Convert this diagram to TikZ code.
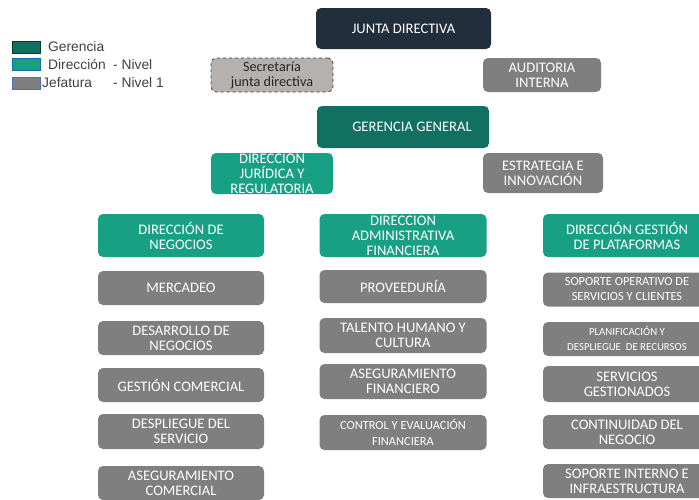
\documentclass[tikz,border=0pt]{standalone}
\usepackage{fontspec}
\setmainfont{Carlito}
\newfontfamily\legfont{Liberation Sans}
\usetikzlibrary{backgrounds}
\definecolor{navy}{HTML}{212E3C}
\definecolor{gerc}{HTML}{117060}
\definecolor{dirc}{HTML}{18A084}
\definecolor{jefc}{HTML}{7F7F7F}
\definecolor{secc}{HTML}{B5B1AF}
\definecolor{linec}{HTML}{CBE4DE}
\definecolor{legtext}{HTML}{404040}
\tikzset{
  base/.style={rounded corners=5pt, inner sep=0pt, align=center, text=white,
    font=\fontsize{14.6}{15}\selectfont},
  junta/.style={base, fill=navy},
  geren/.style={base, fill=gerc},
  direc/.style={base, fill=dirc},
  jefat/.style={base, fill=jefc},
  secre/.style={base, fill=secc, draw=legtext, dashed, line width=0.8pt, text=black!85,
    font=\fontsize{14.2}{15}\selectfont},
  conn/.style={draw=linec, line width=1pt},
  legbox/.style={minimum width=28pt, minimum height=12pt, inner sep=0pt, line width=0.8pt},
  legtxt/.style={anchor=west, inner sep=0pt, text=legtext, font=\legfont\fontsize{13.8}{15}\selectfont}
}
\begin{document}
\begin{tikzpicture}[x=1pt,y=-1pt]
\useasboundingbox (0,0) rectangle (699,499);
\clip (0,0) rectangle (699,499);
\fill[white] (0,0) rectangle (699,499);
% legend
\node[legbox, fill=gerc, draw=gerc!50!black] (lg1) at (26,47) {};
\node[legbox, fill=dirc, draw=blue!30!dirc] (lg2) at (26,64.5) {};
\node[legbox, fill=jefc, draw={rgb,255:red,74;green,111;blue,181}] (lg3) at (26,83) {};
\node[legtxt] (lt1) at (48,47) {Gerencia};
\node[legtxt] (lt2) at (48,64.5) {\makebox[65pt][l]{Dirección}- Nivel};
\node[legtxt] (lt3) at (42,83) {\makebox[71pt][l]{Jefatura}- Nivel 1};
% top
\node[junta, minimum width=175pt, minimum height=41pt] (jd) at (403.5,28.5) {JUNTA DIRECTIVA};
\node[secre, minimum width=122pt, minimum height=34pt] (sec) at (272,75) {Secretaría\\junta directiva};
\node[jefat, minimum width=118pt, minimum height=34pt] (aud) at (542,75) {AUDITORIA\\INTERNA};
\node[geren, minimum width=172pt, minimum height=42pt] (gg) at (403,127) {\hspace*{18pt}GERENCIA GENERAL};
\node[direc, minimum width=122pt, minimum height=41pt] (jur) at (272,173.5) {DIRECCION\\JURÍDICA Y\\REGULATORIA};
\node[jefat, minimum width=120pt, minimum height=40pt] (est) at (543,173) {ESTRATEGIA E\\INNOVACIÓN};
% column 1
\node[direc, minimum width=166pt, minimum height=43pt] (dn) at (181,235.5) {DIRECCIÓN DE\\NEGOCIOS};
\node[jefat, minimum width=166pt, minimum height=34pt] (m1) at (181,288) {MERCADEO};
\node[jefat, minimum width=166pt, minimum height=34pt] (m2) at (181,338) {DESARROLLO DE\\NEGOCIOS};
\node[jefat, minimum width=166pt, minimum height=34pt] (m3) at (181,385) {GESTIÓN COMERCIAL};
\node[jefat, minimum width=166pt, minimum height=35pt] (m4) at (181,431.5) {DESPLIEGUE DEL\\SERVICIO};
\node[jefat, minimum width=166pt, minimum height=34pt] (m5) at (181,483) {ASEGURAMIENTO\\COMERCIAL};
% column 2
\node[direc, minimum width=167pt, minimum height=43pt] (daf) at (403,235.5) {DIRECCION\\ADMINISTRATIVA\\FINANCIERA};
\node[jefat, minimum width=167pt, minimum height=33pt] (a1) at (403,286.5) {PROVEEDURÍA};
\node[jefat, minimum width=167pt, minimum height=35pt] (a2) at (403,335.5) {TALENTO HUMANO Y\\CULTURA};
\node[jefat, minimum width=167pt, minimum height=35pt] (a3) at (403,381.5) {ASEGURAMIENTO\\FINANCIERO};
\node[jefat, minimum width=167pt, minimum height=35pt, font=\fontsize{12.4}{16}\selectfont] (a4) at (403,432.5) {CONTROL Y EVALUACIÓN\\FINANCIERA};
% column 3
\node[direc, minimum width=168pt, minimum height=43pt] (dgp) at (627,235.5) {DIRECCIÓN GESTIÓN\\DE PLATAFORMAS};
\node[jefat, minimum width=168pt, minimum height=34pt, font=\fontsize{12.4}{15}\selectfont] (p1) at (627,289.5) {SOPORTE OPERATIVO DE\\SERVICIOS Y CLIENTES};
\node[jefat, minimum width=168pt, minimum height=34pt, font=\fontsize{10.8}{15}\selectfont] (p2) at (627,339) {PLANIFICACIÓN Y\\DESPLIEGUE\ \ DE RECURSOS};
\node[jefat, minimum width=168pt, minimum height=36pt] (p3) at (627,384) {SERVICIOS\\GESTIONADOS};
\node[jefat, minimum width=168pt, minimum height=34pt] (p4) at (627,432) {CONTINUIDAD DEL\\NEGOCIO};
\node[jefat, minimum width=168pt, minimum height=34pt] (p5) at (627,481) {SOPORTE INTERNO E\\INFRAESTRUCTURA};
% connectors
\coordinate (hub) at (403,201);
\coordinate (c1) at (181,201);
\coordinate (c3) at (627,201);
\begin{scope}[on background layer]
\draw[conn] (jd.south) -- (jd.south |- hub);
\draw[conn] (sec.east) -- (aud.west);
\draw[conn] (jur.east) -- (jur.east -| est.west);
\draw[conn] (c1) -- (c3);
\draw[conn] (c1) -- (dn.north);
\draw[conn] (hub) -- (daf.north);
\draw[conn] (c3) -- (dgp.north);
\draw[conn] (dn.center) -- (m5.center);
\draw[conn] (daf.center) -- (a4.center);
\draw[conn] (dgp.center) -- (p5.center);
\end{scope}
\end{tikzpicture}
\end{document}
